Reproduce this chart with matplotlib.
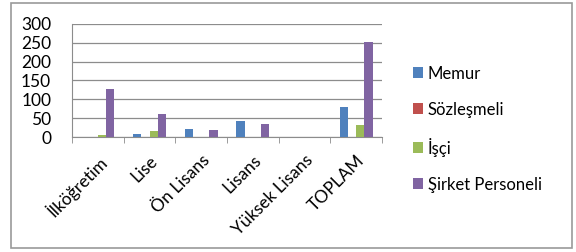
import matplotlib.pyplot as plt
import numpy as np
from matplotlib.patches import Rectangle

plt.rcParams['font.family'] = ['Lato', 'DejaVu Sans']

# Data
categories = ["İlköğretim", "Lise", "Ön Lisans", "Lisans", "Yüksek Lisans", "TOPLAM"]
memur = [0, 7, 22, 42, 0, 79]
sozlesmeli = [0, 0, 0, 0, 0, 0]
isci = [4, 17, 0, 0, 0, 32]
sirket = [128, 60, 18, 34, 0, 251]
series_names = ["Memur", "Sözleşmeli", "İşçi", "Şirket Personeli"]
colors = ["#4F81BD", "#C0504D", "#9BBB59", "#8064A2"]

fig = plt.figure(figsize=(5.76, 2.52), dpi=100)
fig.patches.append(Rectangle((11 / 576, 4 / 252), 561 / 576, 245 / 252, transform=fig.transFigure,
                             fill=False, edgecolor="#9a9a9a", linewidth=1.2))
ax = fig.add_axes([72 / 576, 1 - 137 / 252, 310 / 576, 113 / 252])

x = np.arange(len(categories))
w = 0.16
for i, (vals, name, c) in enumerate(zip([memur, sozlesmeli, isci, sirket], series_names, colors)):
    ax.bar(x + (i - 1.5) * w, vals, width=w, color=c, label=name, zorder=3)

ax.set_xlim(-0.5, len(categories) - 0.5)
ax.set_ylim(0, 300)
ax.set_yticks(range(0, 301, 50))
ax.yaxis.grid(True, color="#8c8c8c", linewidth=0.9)
ax.set_axisbelow(True)
for s in ["top", "right"]:
    ax.spines[s].set_visible(False)
ax.spines["left"].set_color("#8c8c8c")
ax.spines["bottom"].set_color("#8c8c8c")
ax.tick_params(axis="y", length=0, labelsize=12.5, pad=15)
ax.set_xticks(np.arange(-0.5, len(categories), 1), minor=True)
ax.tick_params(axis="x", which="minor", length=4, color="#8c8c8c", direction="out")
ax.tick_params(axis="x", which="major", length=0, labelsize=12.5, pad=11)
ax.set_xticks(x)
ax.set_xticklabels(categories, rotation=45, ha="right", va="top", rotation_mode="anchor")

ax.legend(loc="center left", bbox_to_anchor=(1.05, 0.07), frameon=False, fontsize=12,
          handlelength=0.6, handleheight=0.6, handletextpad=0.3, labelspacing=1.2)

plt.savefig("out.png", dpi=100)
